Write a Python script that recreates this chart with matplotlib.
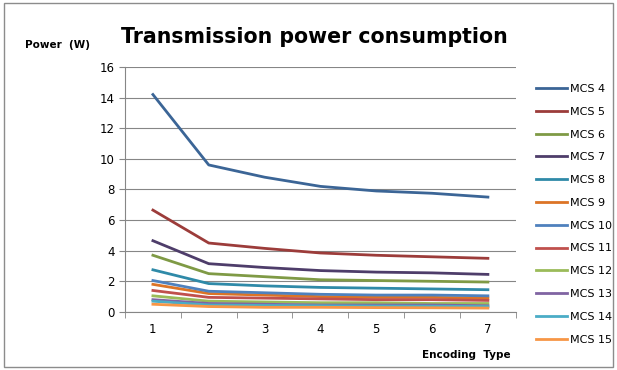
import matplotlib.pyplot as plt
from matplotlib.patches import Rectangle

encoding_types = [1, 2, 3, 4, 5, 6, 7]
series_names = ["MCS 4", "MCS 5", "MCS 6", "MCS 7", "MCS 8", "MCS 9",
                "MCS 10", "MCS 11", "MCS 12", "MCS 13", "MCS 14", "MCS 15"]

mcs4 = [14.2, 9.6, 8.8, 8.2, 7.9, 7.75, 7.5]
mcs5 = [6.65, 4.5, 4.15, 3.85, 3.7, 3.6, 3.5]
mcs6 = [3.7, 2.5, 2.3, 2.1, 2.05, 2.0, 1.95]
mcs7 = [4.65, 3.15, 2.9, 2.7, 2.6, 2.55, 2.45]
mcs8 = [2.75, 1.85, 1.7, 1.6, 1.55, 1.5, 1.45]
mcs9 = [1.8, 1.2, 1.1, 1.0, 0.95, 0.95, 0.9]
mcs10 = [2.05, 1.35, 1.25, 1.15, 1.1, 1.1, 1.05]
mcs11 = [1.4, 0.95, 0.9, 0.85, 0.8, 0.8, 0.75]
mcs12 = [1.05, 0.7, 0.65, 0.6, 0.6, 0.55, 0.55]
mcs13 = [0.8, 0.55, 0.5, 0.45, 0.45, 0.45, 0.4]
mcs14 = [0.7, 0.45, 0.42, 0.4, 0.38, 0.37, 0.35]
mcs15 = [0.5, 0.35, 0.3, 0.3, 0.28, 0.27, 0.25]

all_series = [mcs4, mcs5, mcs6, mcs7, mcs8, mcs9,
              mcs10, mcs11, mcs12, mcs13, mcs14, mcs15]

colors = ["#3b6596", "#9c3c3a", "#7f9a45", "#4e3d6a", "#2f8aa8", "#dc7426",
          "#4f81bd", "#c0504d", "#9bbb59", "#8064a2", "#4bacc6", "#f79646"]

fig = plt.figure(figsize=(6.17, 3.7), dpi=100)
ax = fig.add_axes([0.2026, 0.157, 0.6334, 0.662])

for values, name, c in zip(all_series, series_names, colors):
    ax.plot(encoding_types, values, color=c, linewidth=2.0, label=name)

ax.set_xlim(0.5, 7.5)
ax.set_ylim(0, 16)
ax.set_yticks(range(0, 17, 2))
ax.set_xticks(encoding_types)
ax.set_xticks([x + 0.5 for x in range(0, 8)], minor=True)
ax.tick_params(axis='x', which='major', length=0, pad=8, labelsize=8.5)
ax.tick_params(axis='x', which='minor', length=4, color='#868686')
ax.tick_params(axis='y', length=4, color='#868686', labelsize=8.5)
ax.grid(axis='y', color='#868686', linewidth=0.8)
ax.set_axisbelow(True)
for side in ['top', 'right']:
    ax.spines[side].set_visible(False)
for side in ['left', 'bottom']:
    ax.spines[side].set_color('#868686')

fig.text(0.51, 0.90, "Transmission power consumption", ha='center', va='center',
         fontsize=14.8, fontweight='bold')
fig.text(0.04, 0.878, "Power  (W)", ha='left', va='center', fontsize=7.5, fontweight='bold')
fig.text(0.755, 0.04, "Encoding  Type", ha='center', va='center', fontsize=7.5, fontweight='bold')

fig.legend(loc='upper left', bbox_to_anchor=(0.862, 0.785), frameon=False,
           fontsize=8, handlelength=2.8, handletextpad=0.2, labelspacing=1.15,
           borderaxespad=0)

fig.patches.append(Rectangle((0.006, 0.008), 0.988, 0.984, transform=fig.transFigure,
                             fill=False, edgecolor='#8c8c8c', linewidth=1.0))

fig.savefig("out.png", dpi=100)
